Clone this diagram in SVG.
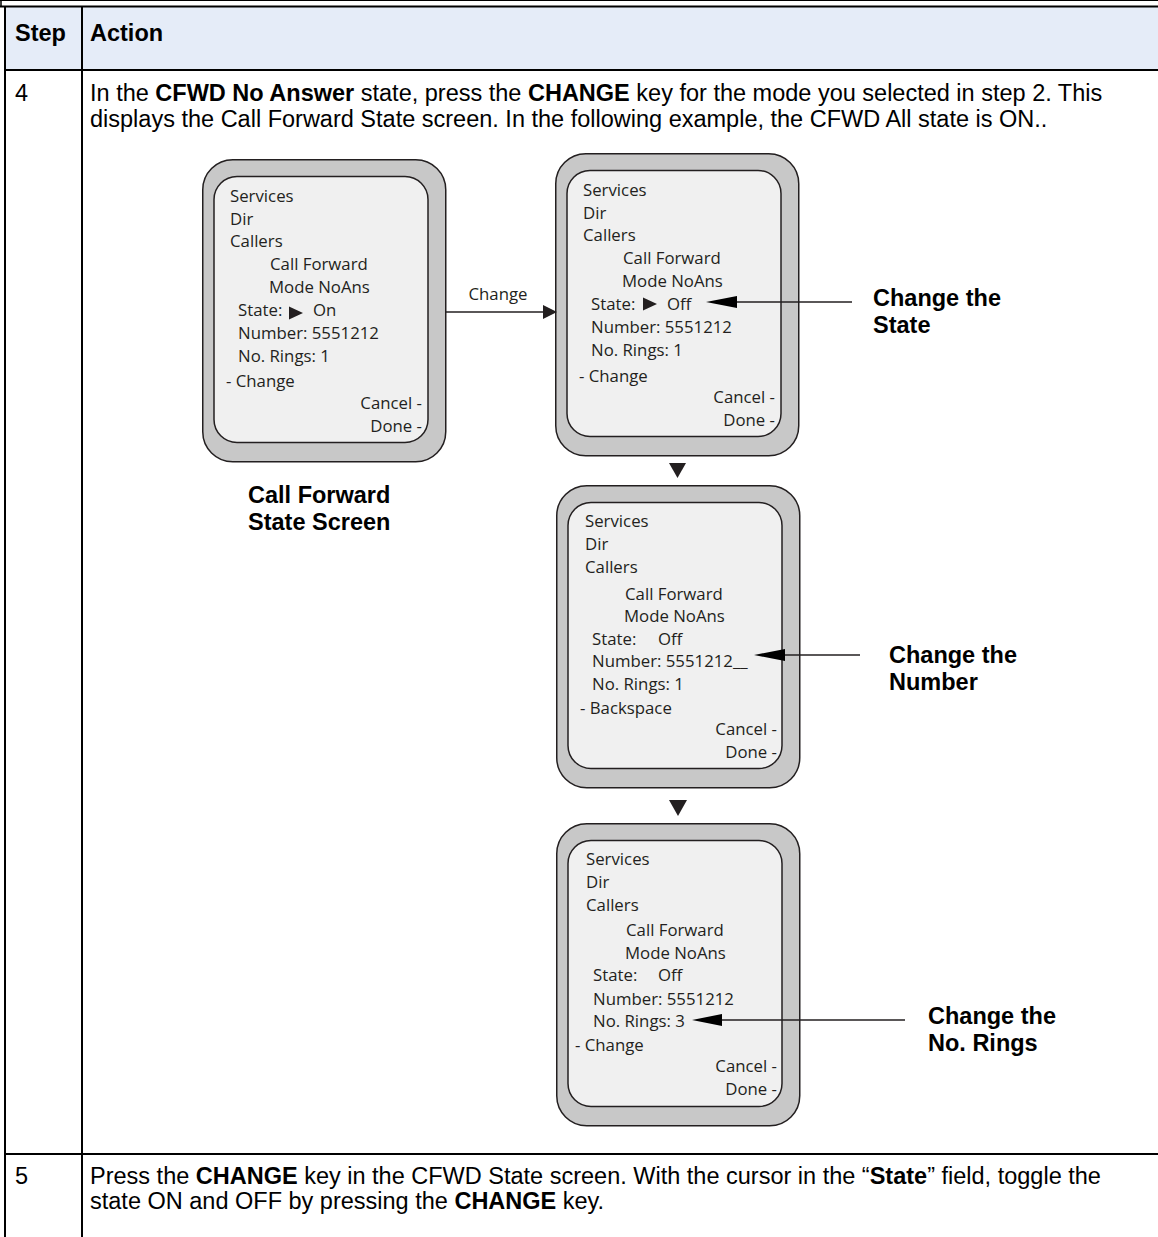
<svg xmlns="http://www.w3.org/2000/svg" width="1158" height="1237" viewBox="0 0 1158 1237">
<style>
.t{font-family:"Liberation Sans",Arial,sans-serif;font-size:23.5px;fill:#000}
.b{font-weight:bold}
.p{font-family:"Open Sans","Noto Sans",sans-serif;font-size:16.8px;fill:#231f20}
.e{text-anchor:end}
.ln{stroke:#000;stroke-width:2;fill:none}
.cn{stroke:#231f20;stroke-width:1.6;fill:none}
.ah{fill:#231f20}
</style>
<defs>
<g id="frame">
<rect x="0.75" y="0.75" width="243" height="302" rx="30" fill="#c8c8c8" stroke="#231f20" stroke-width="1.5"/>
<rect x="12" y="17.5" width="214" height="266" rx="23" fill="#f0f0f0" stroke="#231f20" stroke-width="1.5"/>
</g>
</defs>
<rect width="1158" height="1237" fill="#fff"/>
<g id="table">
<rect x="5" y="7" width="1153" height="62" fill="#e5ecf8"/>
<line x1="0" y1="0.5" x2="1158" y2="0.5" stroke="#000" stroke-width="1"/>
<line x1="1" y1="0" x2="1" y2="7" stroke="#000" stroke-width="1.5"/>
<line class="ln" x1="0" y1="6.5" x2="1158" y2="6.5"/>
<line class="ln" x1="5" y1="70" x2="1158" y2="70"/>
<line class="ln" x1="5" y1="6" x2="5" y2="1237"/>
<line class="ln" x1="82" y1="6" x2="82" y2="1237"/>
<line class="ln" x1="5" y1="1154" x2="1158" y2="1154"/>
<text class="t b" x="15" y="41">Step</text>
<text class="t b" x="90" y="41">Action</text>
<text class="t" x="15" y="101">4</text>
<text class="t" x="90" y="101">In the <tspan class="b">CFWD No Answer</tspan> state, press the <tspan class="b">CHANGE</tspan> key for the mode you selected in step 2. This</text>
<text class="t" x="90" y="127">displays the Call Forward State screen. In the following example, the CFWD All state is ON..</text>
<text class="t" x="15" y="1184">5</text>
<text class="t" x="90" y="1184">Press the <tspan class="b">CHANGE</tspan> key in the CFWD State screen. With the cursor in the “<tspan class="b">State</tspan>” field, toggle the</text>
<text class="t" x="90" y="1209">state ON and OFF by pressing the <tspan class="b">CHANGE</tspan> key.</text>
</g>
<g id="phone1" transform="translate(202,159)">
<use href="#frame"/>
<text class="p" x="28" y="42.5">Services</text>
<text class="p" x="28" y="65.5">Dir</text>
<text class="p" x="28" y="88">Callers</text>
<text class="p" x="68" y="111">Call Forward</text>
<text class="p" x="67" y="134">Mode NoAns</text>
<text class="p" x="36" y="157">State:</text>
<path class="ah" d="M87,147.5 L101,154 L87,160.5 Z"/>
<text class="p" x="111" y="157">On</text>
<text class="p" x="36" y="180">Number: 5551212</text>
<text class="p" x="36" y="203">No. Rings: 1</text>
<text class="p" x="24" y="228">- Change</text>
<text class="p e" x="220" y="250">Cancel -</text>
<text class="p e" x="220" y="273">Done -</text>
</g>
<g id="phone2" transform="translate(555,153)">
<use href="#frame"/>
<text class="p" x="28" y="42.5">Services</text>
<text class="p" x="28" y="65.5">Dir</text>
<text class="p" x="28" y="88">Callers</text>
<text class="p" x="68" y="111">Call Forward</text>
<text class="p" x="67" y="134">Mode NoAns</text>
<text class="p" x="36" y="157">State:</text>
<path class="ah" d="M88,144.5 L102,151 L88,157.5 Z"/>
<text class="p" x="112" y="157">Off</text>
<text class="p" x="36" y="180">Number: 5551212</text>
<text class="p" x="36" y="203">No. Rings: 1</text>
<text class="p" x="24" y="229">- Change</text>
<text class="p e" x="220" y="250">Cancel -</text>
<text class="p e" x="220" y="273">Done -</text>
</g>
<g id="phone3" transform="translate(556,485)">
<use href="#frame"/>
<text class="p" x="29" y="42">Services</text>
<text class="p" x="29" y="65">Dir</text>
<text class="p" x="29" y="88">Callers</text>
<text class="p" x="69" y="115">Call Forward</text>
<text class="p" x="68" y="137">Mode NoAns</text>
<text class="p" x="36" y="160">State:</text>
<text class="p" x="102" y="160">Off</text>
<text class="p" x="36" y="182">Number: 5551212__</text>
<text class="p" x="36" y="205">No. Rings: 1</text>
<text class="p" x="24" y="229">- Backspace</text>
<text class="p e" x="221" y="250">Cancel -</text>
<text class="p e" x="221" y="273">Done -</text>
</g>
<g id="phone4" transform="translate(556,823)">
<use href="#frame"/>
<text class="p" x="30" y="41.5">Services</text>
<text class="p" x="30" y="64.5">Dir</text>
<text class="p" x="30" y="88">Callers</text>
<text class="p" x="70" y="113">Call Forward</text>
<text class="p" x="69" y="136">Mode NoAns</text>
<text class="p" x="37" y="158">State:</text>
<text class="p" x="102" y="158">Off</text>
<text class="p" x="37" y="182">Number: 5551212</text>
<text class="p" x="37" y="204">No. Rings: 3</text>
<text class="p" x="19" y="228">- Change</text>
<text class="p e" x="221" y="249">Cancel -</text>
<text class="p e" x="221" y="272">Done -</text>
</g>
<g id="labels">
<text class="t b" x="248" y="503">Call Forward</text>
<text class="t b" x="248" y="530">State Screen</text>
<text class="t b" x="873" y="306">Change the</text>
<text class="t b" x="873" y="333">State</text>
<text class="t b" x="889" y="663">Change the</text>
<text class="t b" x="889" y="690">Number</text>
<text class="t b" x="928" y="1024">Change the</text>
<text class="t b" x="928" y="1051">No. Rings</text>
</g>
<g id="connectors">
<line class="cn" x1="446" y1="312" x2="544" y2="312"/>
<path class="ah" d="M543,305 L557,312 L543,319 Z"/>
<text class="p" x="498" y="300" text-anchor="middle">Change</text>
<path class="ah" d="M669,463 L686,463 L677.5,478 Z"/>
<path class="ah" d="M669,800 L687,800 L678,816 Z"/>
<line class="cn" x1="734" y1="302" x2="852" y2="302" stroke="#000" stroke-width="2"/>
<path d="M706,302 L737,296 L737,308 Z" fill="#000"/>
<line class="cn" x1="782" y1="655" x2="860" y2="655" stroke="#000" stroke-width="2"/>
<path d="M754,655 L785,649 L785,661 Z" fill="#000"/>
<line class="cn" x1="720" y1="1020" x2="905" y2="1020" stroke="#000" stroke-width="2"/>
<path d="M692,1020 L722,1014 L722,1026 Z" fill="#000"/>
</g>
</svg>
